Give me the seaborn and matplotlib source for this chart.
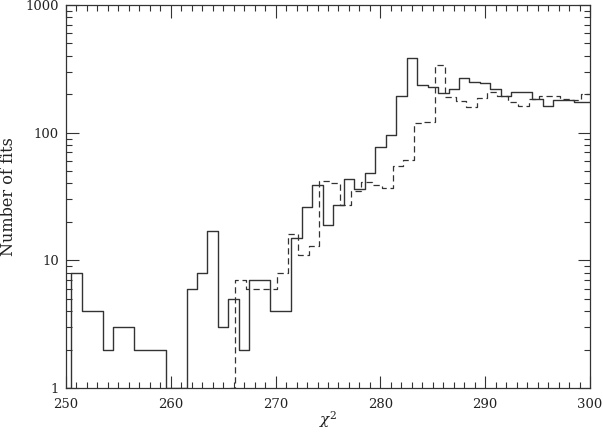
import numpy as np
import pandas as pd
import matplotlib
matplotlib.use("Agg")
import matplotlib.pyplot as plt
import matplotlib.ticker as mticker
import seaborn as sns

# Solid histogram: bin centres (integer chi^2) and counts (1 = empty, at floor)
solid_chi2 = list(range(250, 301))
solid_counts = [1, 8, 4, 4, 2, 3, 3, 2, 2, 2,
                1, 1, 6, 8, 17, 3, 5, 2, 7, 7,
                4, 4, 15, 26, 39, 19, 27, 43, 36, 48,
                77, 96, 194, 386, 237, 228, 204, 220, 267, 248,
                244, 219, 192, 210, 210, 184, 161, 181, 181, 173,
                173]

# Dashed histogram: bins shifted by about a third of a bin
dashed_offset = -0.33
dashed_chi2 = list(range(266, 303))
dashed_counts = [1, 7, 6, 6, 6, 8, 16, 11, 13, 42,
                 40, 27, 35, 41, 39, 37, 55, 61, 118, 122,
                 336, 189, 178, 158, 187, 207, 192, 173, 161, 184,
                 192, 194, 184, 181, 200, 200, 200]

sns.set_style("ticks")
plt.rcParams["font.family"] = ["DejaVu Serif"]
plt.rcParams["mathtext.fontset"] = "dejavuserif"

fig = plt.figure(figsize=(6.03, 4.32), dpi=100)
ax = fig.add_axes([66 / 603, 1 - 388 / 432, (590 - 66) / 603, (388 - 5) / 432])

df_s = pd.DataFrame({"chi2": solid_chi2, "n": solid_counts})
df_d = pd.DataFrame({"chi2": np.array(dashed_chi2) + dashed_offset, "n": dashed_counts})

sns.lineplot(data=df_s, x="chi2", y="n", ax=ax, color="#333333", lw=1.0,
             drawstyle="steps-mid", estimator=None, sort=True)
sns.lineplot(data=df_d, x="chi2", y="n", ax=ax, color="#333333", lw=0.9,
             drawstyle="steps-mid", estimator=None, sort=True, linestyle=(0, (5, 3)))

ax.set_yscale("log")
ax.set_xlim(250, 300)
ax.set_ylim(1, 1000)

ax.xaxis.set_major_locator(mticker.MultipleLocator(10))
ax.xaxis.set_minor_locator(mticker.MultipleLocator(1))
ax.yaxis.set_major_locator(mticker.LogLocator(base=10))
ax.yaxis.set_minor_locator(mticker.LogLocator(base=10, subs=np.arange(2, 10)))
ax.yaxis.set_major_formatter(mticker.FuncFormatter(lambda v, p: f"{int(round(v))}"))
ax.yaxis.set_minor_formatter(mticker.NullFormatter())

ax.tick_params(which="both", direction="in", top=True, right=True, colors="#333333",
               labelsize=9.5, labelcolor="#222222", width=0.8)
ax.tick_params(which="major", length=9)
ax.tick_params(axis="x", which="major", pad=7)
ax.tick_params(axis="y", which="major", pad=5)
ax.tick_params(which="minor", length=4.5)

for s in ax.spines.values():
    s.set_color("#333333")
    s.set_linewidth(0.9)

ax.set_xlabel(r"$\chi^2$", fontsize=11, color="#222222", labelpad=-1)
ax.set_ylabel("Number of fits", fontsize=11.5, color="#222222", labelpad=6)

fig.savefig("out.png", dpi=100)
